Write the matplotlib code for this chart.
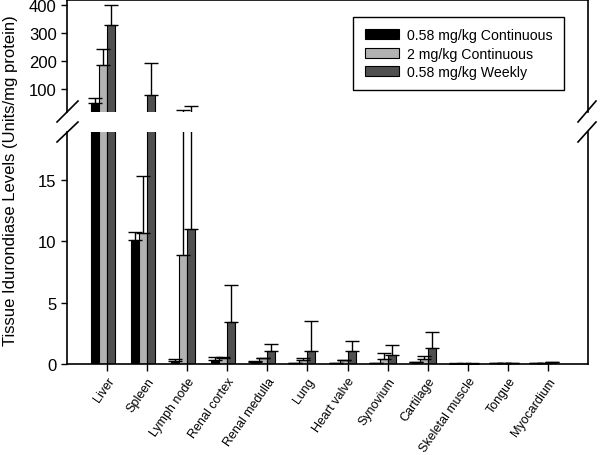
import numpy as np
import matplotlib
matplotlib.use("Agg")
import matplotlib.pyplot as plt
from matplotlib.patches import Patch

plt.rcParams['font.family'] = ['Liberation Sans', 'DejaVu Sans']

tissues = ["Liver", "Spleen", "Lymph node", "Renal cortex", "Renal medulla", "Lung",
           "Heart valve", "Synovium", "Cartilage", "Skeletal muscle", "Tongue", "Myocardium"]
series = ["0.58 mg/kg Continuous", "2 mg/kg Continuous", "0.58 mg/kg Weekly"]

# mean values (Units/mg protein)
cont_058 = [47, 10.05, 0.25, 0.35, 0.2, 0.05, 0.1, 0.05, 0.15, 0.02, 0.05, 0.05]
cont_2 = [186, 10.65, 8.85, 0.5, 0.45, 0.33, 0.33, 0.4, 0.42, 0.03, 0.08, 0.08]
weekly_058 = [327, 78, 10.95, 3.42, 1.05, 1.05, 1.05, 0.72, 1.28, 0.03, 0.1, 0.15]

# upper end of error bars
err_058 = [65, 10.7, 0.42, 0.55, 0.25, 0.1, 0.12, 0.1, 0.2, 0.04, 0.07, 0.07]
err_2 = [244, 15.3, 23, 0.6, 0.5, 0.45, 0.35, 0.88, 0.62, 0.05, 0.1, 0.1]
err_w = [399, 193, 38, 6.46, 1.63, 3.53, 1.9, 1.55, 2.64, 0.05, 0.12, 0.2]

values = [cont_058, cont_2, weekly_058]
uppers = [err_058, err_2, err_w]
colors = ["#000000", "#b2b2b2", "#505050"]

top_lim = (17.5, 418)
bot_lim = (0, 18.9)

fig = plt.figure(figsize=(6, 4.56), dpi=100)
ax_top = fig.add_axes([0.1117, 0.7529, 0.8683, 0.2449])
ax_bot = fig.add_axes([0.1117, 0.1996, 0.8683, 0.5094])

x = np.arange(len(tissues))
width = 0.2
offsets = [-0.3, -0.1, 0.1]

for ax, lim in ((ax_top, top_lim), (ax_bot, bot_lim)):
    for vals, ups, col, off in zip(values, uppers, colors, offsets):
        vals = np.array(vals, dtype=float)
        ups = np.array(ups, dtype=float)
        # skip bars that end below this panel so their edges don't leak into the gap
        show = vals > lim[0]
        ax.bar(x[show] + off, vals[show], width, color=col, edgecolor="black",
               linewidth=0.8, zorder=2)
        keep = ups > lim[0]
        yerr = ups[keep] - vals[keep]
        ax.errorbar(x[keep] + off, vals[keep], yerr=[np.zeros_like(yerr), yerr], fmt="none",
                    ecolor="black", elinewidth=1, capsize=5, capthick=1, zorder=3)
    ax.set_xlim(-1, 12)
    ax.set_ylim(*lim)
    for s in ax.spines.values():
        s.set_linewidth(1.2)
    ax.tick_params(axis="y", direction="out", length=4, width=1, labelsize=12)

ax_top.set_yticks([100, 200, 300, 400])
ax_top.spines["bottom"].set_visible(False)
ax_top.set_xticks([])

ax_bot.set_yticks([0, 5, 10, 15])
ax_bot.spines["top"].set_visible(False)
ax_bot.set_xticks(x)
ax_bot.set_xticklabels(tissues, rotation=55, ha="right", va="top", rotation_mode="anchor", fontsize=9)
ax_bot.tick_params(axis="x", direction="out", length=5, width=1, pad=3)

# break marks
for xs in ([57, 78], [578, 596]):
    for y0, y1 in ((123, 102), (143, 123)):
        fig.add_artist(plt.Line2D([xs[0] / 600, xs[1] / 600], [1 - y0 / 456, 1 - y1 / 456],
                                  color="black", linewidth=1.2))

handles = [Patch(facecolor=c, edgecolor="black", linewidth=0.8) for c in colors]
leg = ax_top.legend(handles, series, loc="upper right", bbox_to_anchor=(0.954, 0.848),
                    borderaxespad=0, fontsize=10.2, fancybox=False, framealpha=1,
                    handlelength=2.4, handleheight=0.7, handletextpad=0.6,
                    labelspacing=0.3, borderpad=0.8)
leg.get_frame().set_edgecolor("black")
leg.get_frame().set_linewidth(1)

fig.text(0.017, 1 - 181 / 456, "Tissue Idurondiase Levels (Units/mg protein)",
         rotation=90, ha="center", va="center", fontsize=12)

fig.savefig("out.png", dpi=100)
